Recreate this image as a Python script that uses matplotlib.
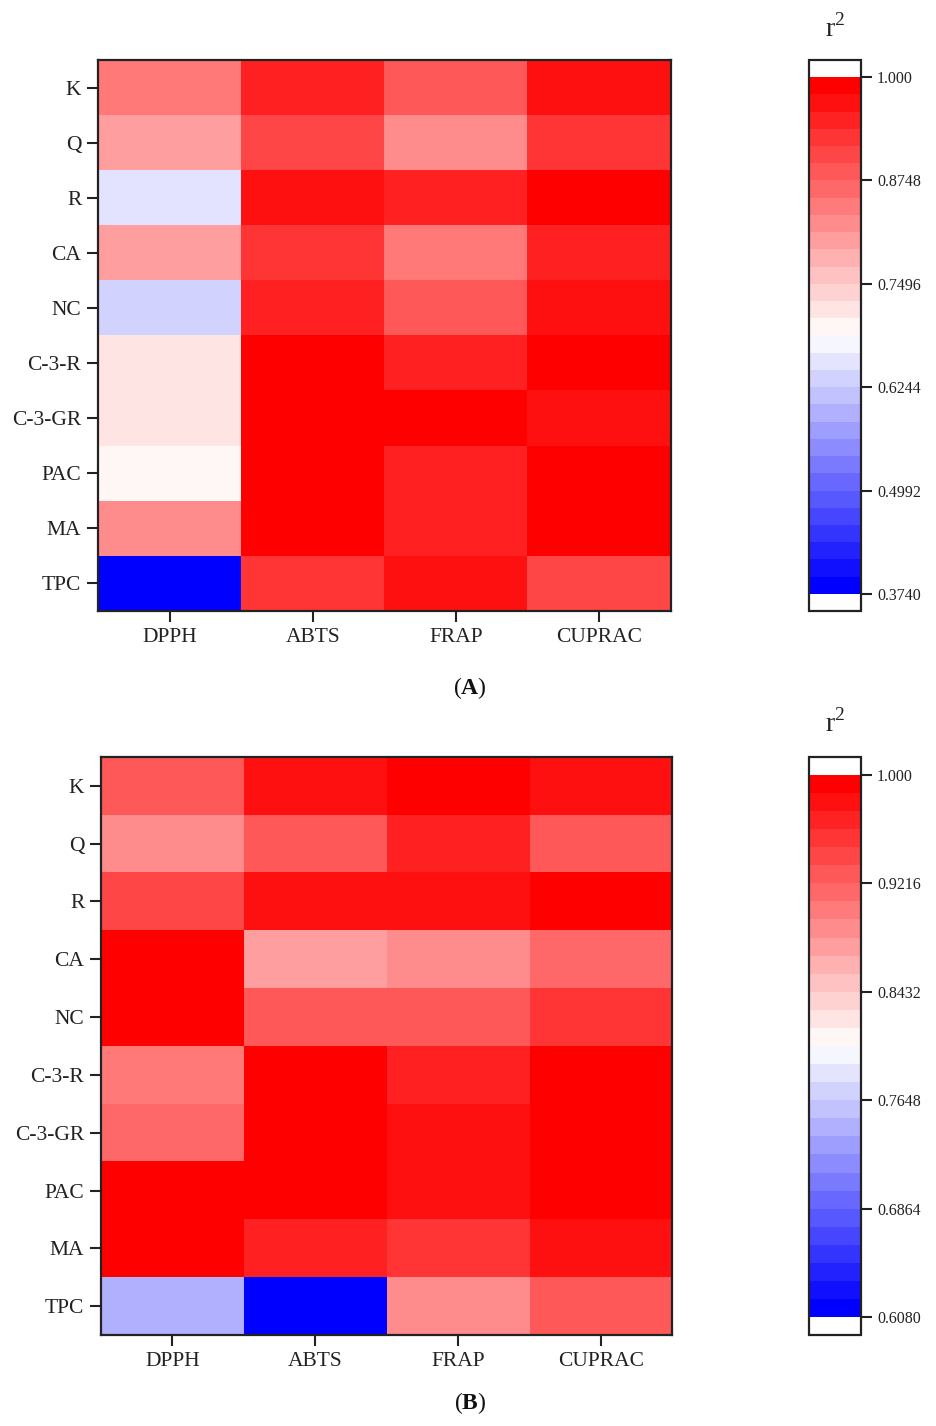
import numpy as np
import matplotlib
matplotlib.use("Agg")
import matplotlib.pyplot as plt
from matplotlib.colors import ListedColormap, BoundaryNorm

plt.rcParams["font.family"] = ["Liberation Serif", "DejaVu Serif"]
plt.rcParams["mathtext.fontset"] = "custom"
plt.rcParams["mathtext.rm"] = "Liberation Serif"
plt.rcParams["mathtext.bf"] = "Liberation Serif:bold"

compounds = ["K", "Q", "R", "CA", "NC", "C-3-R", "C-3-GR", "PAC", "MA", "TPC"]
assays = ["DPPH", "ABTS", "FRAP", "CUPRAC"]

# r2 values, rows = compounds, cols = assays
r2_a = [
    [0.845, 0.950, 0.885, 0.970],
    [0.800, 0.905, 0.822, 0.928],
    [0.656, 0.968, 0.950, 0.995],
    [0.800, 0.928, 0.845, 0.950],
    [0.636, 0.948, 0.885, 0.968],
    [0.718, 0.995, 0.948, 0.992],
    [0.718, 0.995, 0.996, 0.968],
    [0.697, 0.998, 0.948, 0.992],
    [0.822, 0.994, 0.948, 0.993],
    [0.3745, 0.928, 0.968, 0.905],
]
r2_b = [
    [0.928, 0.980, 0.994, 0.980],
    [0.889, 0.928, 0.967, 0.928],
    [0.941, 0.980, 0.980, 0.994],
    [0.994, 0.876, 0.889, 0.915],
    [0.994, 0.928, 0.928, 0.954],
    [0.902, 0.994, 0.967, 0.994],
    [0.915, 0.994, 0.980, 0.994],
    [0.994, 0.994, 0.980, 0.994],
    [0.994, 0.967, 0.954, 0.980],
    [0.745, 0.6085, 0.889, 0.928],
]
ticks_a = ["0.3740", "0.4992", "0.6244", "0.7496", "0.8748", "1.000"]
ticks_b = ["0.6080", "0.6864", "0.7648", "0.8432", "0.9216", "1.000"]
range_a = (0.374, 1.0)
range_b = (0.608, 1.0)

W, H = 936, 1426
fig = plt.figure(figsize=(W / 100, H / 100), dpi=100)


def px_box(x0, y0, x1, y1):
    return [x0 / W, 1 - y1 / H, (x1 - x0) / W, (y1 - y0) / H]


n_levels = 30
cmap = ListedColormap(plt.cm.bwr(np.linspace(0, 1, n_levels)))
cmap.set_over("white")
cmap.set_under("white")


def panel(data, vrange, tick_labels, ax_box, cax_box, letter, letter_xy, r2_xy):
    vmin, vmax = vrange
    bounds = np.linspace(vmin, vmax, n_levels + 1)
    norm = BoundaryNorm(bounds, n_levels)
    ax = fig.add_axes(px_box(*ax_box))
    im = ax.imshow(np.array(data), cmap=cmap, norm=norm, aspect="auto",
                   interpolation="nearest")
    ax.set_xticks(range(len(assays)))
    ax.set_xticklabels(assays, fontsize=15.5)
    ax.set_yticks(range(len(compounds)))
    ax.set_yticklabels(compounds, fontsize=15.5)
    ax.tick_params(direction="out", length=8, width=1.5, pad=4, colors="#222222")
    for s in ax.spines.values():
        s.set_linewidth(1.6)
        s.set_color("#222222")

    cax = fig.add_axes(px_box(*cax_box))
    cb = fig.colorbar(im, cax=cax, extend="both", extendrect=True,
                      extendfrac=0.033, spacing="uniform")
    tvals = np.linspace(vmin, vmax, len(tick_labels))
    cb.set_ticks(tvals)
    cb.set_ticklabels(tick_labels)
    cb.minorticks_off()
    cb.ax.tick_params(which="minor", length=0)
    cb.ax.tick_params(labelsize=11.5, direction="out", length=8, width=1.5,
                      colors="#222222")
    cb.outline.set_linewidth(1.6)
    cb.outline.set_edgecolor("#222222")

    fig.text(r2_xy[0] / W, 1 - r2_xy[1] / H, r"r$^{2}$", fontsize=20,
             ha="center", va="center", color="#222222")
    fig.text(letter_xy[0] / W, 1 - letter_xy[1] / H,
             r"($\mathbf{" + letter + r"}$)", fontsize=17,
             ha="center", va="center", color="#111111")


panel(r2_a, range_a, ticks_a, (98, 60, 671, 611), (809, 60, 861, 611),
      "A", (470, 688), (835, 28))
panel(r2_b, range_b, ticks_b, (101, 757, 672, 1335), (809, 757, 861, 1335),
      "B", (470, 1403), (835, 723))

fig.savefig("out.png", dpi=100)
